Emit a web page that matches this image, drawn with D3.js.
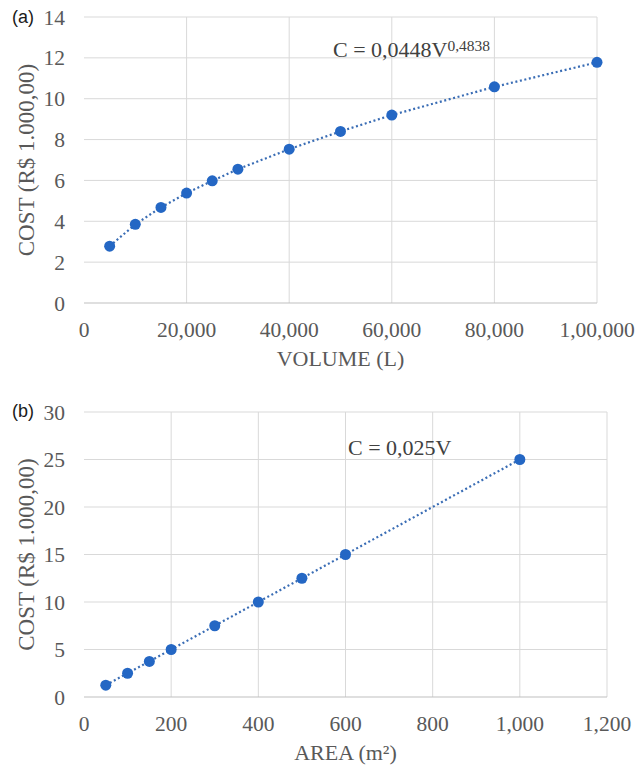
<!DOCTYPE html>
<html>
<head>
  <meta charset="utf-8">
  <script src="https://d3js.org/d3.v7.min.js"></script>
  <style type="text/css">
    body { margin: 0; background: #fff; }
    .tick-label, .axis-title, .note {
      font-family: "Liberation Serif", "Times New Roman", serif;
      fill: #595959;
    }
    .tick-label { font-size: 21.5px; }
    .axis-title { font-size: 22px; }
    .note { font-size: 22px; fill: #404040; }
    .panel-tag {
      font-family: "Liberation Sans", Arial, sans-serif;
      font-size: 18px;
      fill: #1a1a1a;
    }
  </style>
</head>
<body>
  <script type="text/javascript">
    // panel (a): cost vs tank volume
    var volume = [5000, 10000, 15000, 20000, 25000, 30000, 40000, 50000, 60000, 80000, 100000];
    var volumeCost = [2.78, 3.85, 4.68, 5.38, 5.98, 6.55, 7.53, 8.4, 9.2, 10.58, 11.78];
    var volumeTicks = [0, 20000, 40000, 60000, 80000, 100000];
    var volumeTickLabels = ['0', '20,000', '40,000', '60,000', '80,000', '1,00,000'];
    var volumeCostTicks = [0, 2, 4, 6, 8, 10, 12, 14];

    // panel (b): cost vs roof area
    var area = [50, 100, 150, 200, 300, 400, 500, 600, 1000];
    var areaCost = [1.25, 2.5, 3.75, 5, 7.5, 10, 12.5, 15, 25];
    var areaTicks = [0, 200, 400, 600, 800, 1000, 1200];
    var areaTickLabels = ['0', '200', '400', '600', '800', '1,000', '1,200'];
    var areaCostTicks = [0, 5, 10, 15, 20, 25, 30];

    var svg = d3.select('body').append('svg')
        .attr('width', 635)
        .attr('height', 769);

    function drawPanel(opt) {
      var x = d3.scaleLinear().domain(opt.xDomain).range([opt.left, opt.right]);
      var y = d3.scaleLinear().domain(opt.yDomain).range([opt.bottom, opt.top]);
      var g = svg.append('g');

      // gridlines
      g.selectAll('.vgrid').data(opt.xTicks.slice(1)).enter().append('line')
          .attr('x1', d => x(d)).attr('x2', d => x(d))
          .attr('y1', opt.top).attr('y2', opt.bottom)
          .attr('stroke', '#d9d9d9').attr('stroke-width', 1);
      g.selectAll('.hgrid').data(opt.yTicks.slice(1)).enter().append('line')
          .attr('x1', opt.left).attr('x2', opt.right)
          .attr('y1', d => y(d)).attr('y2', d => y(d))
          .attr('stroke', '#d9d9d9').attr('stroke-width', 1);
      // horizontal axis line
      g.append('line')
          .attr('x1', opt.left).attr('x2', opt.right)
          .attr('y1', y(0)).attr('y2', y(0))
          .attr('stroke', '#bfbfbf').attr('stroke-width', 1.2);

      // tick labels
      g.selectAll('.ylab').data(opt.yTicks).enter().append('text')
          .attr('class', 'tick-label')
          .attr('x', 65)
          .attr('y', d => y(d) + 7.5)
          .attr('text-anchor', 'end')
          .text(d => d);
      g.selectAll('.xlab').data(opt.xTicks).enter().append('text')
          .attr('class', 'tick-label')
          .attr('x', d => x(d))
          .attr('y', opt.bottom + 34)
          .attr('text-anchor', 'middle')
          .text((d, i) => opt.xLabels[i]);

      // axis titles
      g.append('text')
          .attr('class', 'axis-title')
          .style('font-size', '23px')
          .attr('transform', 'translate(' + 34 + ',' + ((opt.top + opt.bottom) / 2) + ') rotate(-90)')
          .attr('text-anchor', 'middle')
          .text('COST (R$ 1.000,00)');
      g.append('text')
          .attr('class', 'axis-title')
          .attr('x', (opt.left + opt.right) / 2)
          .attr('y', opt.bottom + 63)
          .attr('text-anchor', 'middle')
          .text(opt.xTitle);

      // panel tag
      g.append('text')
          .attr('class', 'panel-tag')
          .attr('x', 12)
          .attr('y', opt.tagY)
          .text(opt.tag);

      // dotted connecting line + markers
      var pts = opt.xs.map((d, i) => [d, opt.ys[i]]);
      g.append('path')
          .datum(pts)
          .attr('fill', 'none')
          .attr('stroke', '#3a6db5')
          .attr('stroke-width', 2.2)
          .attr('stroke-dasharray', '2,2.6')
          .attr('d', d3.line().x(d => x(d[0])).y(d => y(d[1])));
      g.selectAll('.dot').data(pts).enter().append('circle')
          .attr('cx', d => x(d[0]))
          .attr('cy', d => y(d[1]))
          .attr('r', 5.5)
          .attr('fill', '#2467c4');

      return g;
    }

    var ga = drawPanel({
      left: 84, right: 597, top: 17, bottom: 303,
      xDomain: [0, 100000], yDomain: [0, 14],
      xTicks: volumeTicks, xLabels: volumeTickLabels, yTicks: volumeCostTicks,
      xs: volume, ys: volumeCost,
      xTitle: 'VOLUME (L)', tag: '(a)', tagY: 23
    });
    var noteA = ga.append('text').attr('class', 'note').attr('x', 333).attr('y', 57);
    noteA.append('tspan').text('C = 0,0448V');
    noteA.append('tspan').attr('dy', -6.5).style('font-size', '15.5px').text('0,4838');

    var gb = drawPanel({
      left: 84, right: 607, top: 412, bottom: 697,
      xDomain: [0, 1200], yDomain: [0, 30],
      xTicks: areaTicks, xLabels: areaTickLabels, yTicks: areaCostTicks,
      xs: area, ys: areaCost,
      xTitle: 'AREA (m²)', tag: '(b)', tagY: 417
    });
    gb.append('text').attr('class', 'note').attr('x', 348).attr('y', 455).text('C = 0,025V');
  </script>
</body>
</html>
